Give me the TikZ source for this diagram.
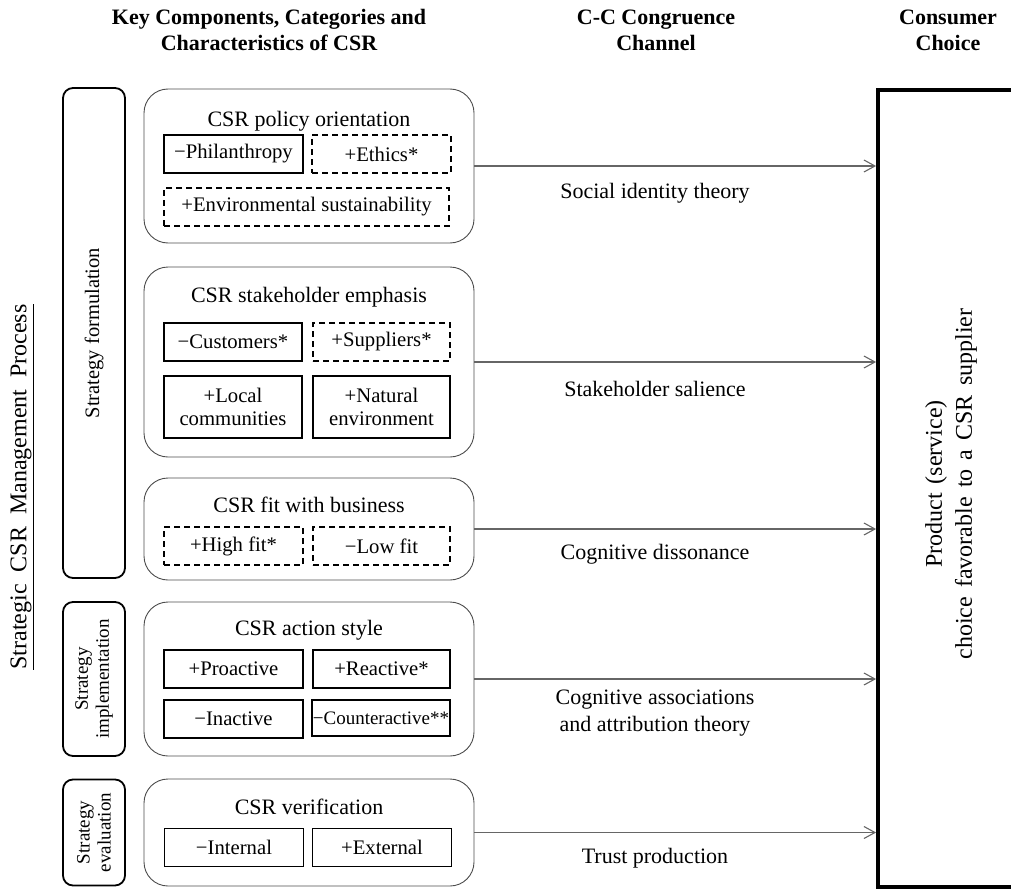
\documentclass[tikz,border=0pt]{standalone}
\usepackage{fontspec}
\setmainfont{Liberation Serif}
\usetikzlibrary{arrows.meta,positioning}
\newcommand\wsp{\hspace{0.38em}}
\begin{document}
\begin{tikzpicture}[x=1pt,y=-1pt,
  header/.style={font=\fontsize{22}{26}\selectfont\bfseries, align=center},
  phasebox/.style={draw=black, line width=1.8pt, rounded corners=10pt, minimum width=62pt, inner sep=0pt},
  phaselabel/.style={font=\fontsize{19}{21}\selectfont, align=center, rotate=90},
  compbox/.style={draw=black!70, line width=0.9pt, rounded corners=24pt, minimum width=330pt, inner sep=0pt},
  comptitle/.style={font=\fontsize{22}{25}\selectfont},
  subbox/.style={draw=black, line width=1.4pt, minimum width=139pt, minimum height=38pt, inner sep=0pt, font=\fontsize{20.7}{23.5}\selectfont, align=center},
  dsub/.style={subbox, dash pattern=on 6pt off 4pt},
  channel/.style={font=\fontsize{22}{27}\selectfont, align=center},
  arr/.style={draw=black!60, line width=1.2pt, -{Straight Barb[length=11pt,width=12pt,line width=1.1pt]}}
]
\useasboundingbox (0,0) rectangle (1011,888);

% headers
\node[header] (h1) at (269,30) {Key Components, Categories and\\Characteristics of CSR};
\node[header] (h2) at (656,30) {C-C Congruence\\Channel};
\node[header] (h3) at (948,30) {Consumer\\Choice};

% vertical process label
\node[rotate=90, font=\fontsize{24}{28}\selectfont] (proc) at (22,487) {\underline{Strategic\ \ CSR\ \ Management\ \ Process}};

% phase boxes
\node[phasebox, minimum height=490pt] (form) at (94,333) {};
\node[phaselabel, font=\fontsize{20.5}{22}\selectfont] (formlab) at (form.center) {Strategy formulation};
\node[phasebox, minimum height=154pt] (impl) at (94,679) {};
\node[phaselabel] (impllab) at (impl.center) {Strategy\\implementation};
\node[phasebox, minimum height=106pt] (eval) at (94,832.5) {};
\node[phaselabel] (evallab) at (eval.center) {Strategy\\evaluation};

% component boxes
\node[compbox, minimum height=154pt] (policy) at (309,166) {};
\node[comptitle] (policyt) at (309,121) {CSR policy orientation};
\node[subbox] (phil) at (233.5,154) {−Philanthropy};
\node[dsub] (ethics) at (381.5,154) {+Ethics*};
\node[dsub, minimum width=285pt] (envs) at (306.5,207) {+Environmental sustainability};

\node[compbox, minimum height=190pt] (stake) at (309,362) {};
\node[comptitle] (staket) at (309,297) {CSR stakeholder emphasis};
\node[subbox, minimum width=138pt] (cust) at (233,342) {−Customers*};
\node[dsub, minimum width=137pt] (supp) at (381.5,342) {+Suppliers*};
\node[subbox, minimum width=138pt, minimum height=62pt] (local) at (233,407) {+Local\\communities};
\node[subbox, minimum width=137pt, minimum height=62pt] (natural) at (381.5,407) {+Natural\\environment};

\node[compbox, minimum height=102pt] (fit) at (309,529) {};
\node[comptitle] (fitt) at (309,505) {CSR fit with business};
\node[dsub] (high) at (233.5,546) {+High fit*};
\node[dsub, minimum width=137pt] (low) at (381.5,546) {−Low fit};

\node[compbox, minimum height=154pt] (action) at (309,679) {};
\node[comptitle] (actiont) at (309,630) {CSR action style};
\node[subbox] (proact) at (233.5,669) {+Proactive};
\node[subbox, minimum width=137pt] (react) at (381.5,669) {+Reactive*};
\node[subbox] (inact) at (233.5,719) {−Inactive};
\node[subbox, minimum width=138pt, minimum height=36pt, font=\fontsize{19}{22}\selectfont] (counter) at (381,718) {−Counteractive**};

\node[compbox, minimum height=107pt] (verif) at (309,832.5) {};
\node[comptitle] (verift) at (309,807) {CSR verification};
\node[subbox] (intern) at (234,847.5) {−Internal};
\node[subbox] (extern) at (382,847.5) {+External};

% consumer choice box (extends past right edge)
\node[draw=black, line width=3.8pt, minimum width=220pt, minimum height=797pt, inner sep=0pt] (choice) at (988,488.5) {};
\node[rotate=90, font=\fontsize{24}{30}\selectfont, align=center] (choicet) at (951,484) {Product\wsp(service)\\choice\wsp favorable\wsp to\wsp a\wsp CSR\wsp supplier};

% channel arrows
\draw[arr] (policy.east) -- (choice.west |- policy.east);
\draw[arr] (stake.east) -- (choice.west |- stake.east);
\draw[arr] (fit.east) -- (choice.west |- fit.east);
\draw[arr] (action.east) -- (choice.west |- action.east);
\draw[arr] (verif.east) -- (choice.west |- verif.east);

% channel labels
\node[channel] (c1) at (655,193) {Social identity theory};
\node[channel] (c2) at (655,389) {Stakeholder salience};
\node[channel] (c3) at (655,554) {Cognitive dissonance};
\node[channel] (c4) at (655,713) {Cognitive associations\\and attribution theory};
\node[channel] (c5) at (655,858) {Trust production};
\end{tikzpicture}
\end{document}
